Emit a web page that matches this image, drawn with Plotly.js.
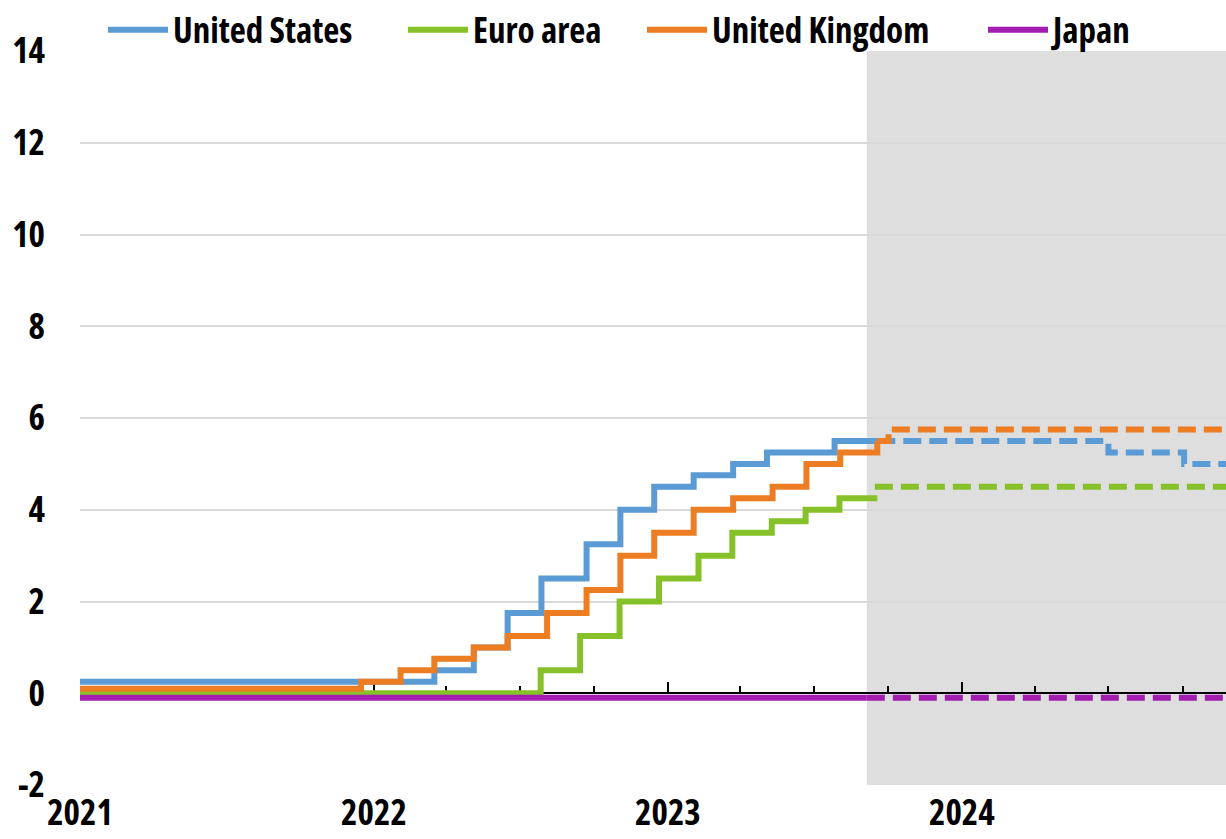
<!DOCTYPE html>
<html>
<head>
<meta charset="utf-8">
<script src="https://cdn.plot.ly/plotly-3.0.1.min.js"></script>
<style>html,body{margin:0;padding:0;background:#fff;}#chart{width:1226px;height:839px;}</style>
</head>
<body>
<div id="chart"></div>
<script>
// ---- data ----
const axisStart = '2021-01-01';
const axisEnd = '2024-11-24';
const projectionStart = '2023-09-05';

const usDates = ['2021-01-01','2022-03-17','2022-05-05','2022-06-16','2022-07-28','2022-09-22','2022-11-03','2022-12-15','2023-02-02','2023-03-23','2023-05-04','2023-07-27','2023-09-18'];
const usRates = [0.25,0.5,1.0,1.75,2.5,3.25,4.0,4.5,4.75,5.0,5.25,5.5,5.5];
const usProjDates = ['2023-09-18','2024-07-01','2024-10-03','2024-11-24'];
const usProjRates = [5.5,5.25,5.0,5.0];

const euDates = ['2021-01-01','2022-07-27','2022-09-14','2022-11-02','2022-12-21','2023-02-08','2023-03-22','2023-05-10','2023-06-21','2023-08-02','2023-09-18'];
const euRates = [0,0.5,1.25,2.0,2.5,3.0,3.5,3.75,4.0,4.25,4.25];
const euProjDates = ['2023-09-15','2024-11-24'];
const euProjRates = [4.5,4.5];

const ukDates = ['2021-01-01','2021-12-16','2022-02-03','2022-03-17','2022-05-05','2022-06-16','2022-08-04','2022-09-22','2022-11-03','2022-12-15','2023-02-02','2023-03-23','2023-05-11','2023-06-22','2023-08-03','2023-09-18'];
const ukRates = [0.1,0.25,0.5,0.75,1.0,1.25,1.75,2.25,3.0,3.5,4.0,4.25,4.5,5.0,5.25,5.5];
const ukProjDates = ['2023-09-18','2023-10-02','2024-11-24'];
const ukProjRates = [5.5,5.75,5.75];

const jpDates = ['2021-01-01','2023-09-05'];
const jpRates = [-0.1,-0.1];
const jpProjDates = ['2023-09-05','2024-11-24'];
const jpProjRates = [-0.1,-0.1];

const seriesNames = ['United States','Euro area','United Kingdom','Japan'];
const yTickVals = [-2,0,2,4,6,8,10,12,14];
const yTickText = ['-2','0','2','4','6','8','10','12','14'];

// ---- font selection (condensed face if available) ----
function textWidth(family, stretch, size, str) {
  const ns = 'http://www.w3.org/2000/svg';
  const svg = document.createElementNS(ns, 'svg');
  svg.setAttribute('width', '10'); svg.setAttribute('height', '10');
  svg.style.position = 'absolute'; svg.style.left = '-9999px';
  const t = document.createElementNS(ns, 'text');
  t.setAttribute('style', 'font-family:' + family + ';font-weight:bold;font-size:' + size + 'px;font-stretch:' + stretch);
  t.textContent = str;
  svg.appendChild(t); document.body.appendChild(svg);
  const w = t.getComputedTextLength();
  document.body.removeChild(svg);
  return w;
}
const SAMPLE = 'United Kingdom 2021';
const candidates = [
  {fam: '"Liberation Sans Narrow"', stretch: 'normal', needCond: false},
  {fam: '"Arial Narrow"', stretch: 'normal', needCond: false},
  {fam: '"Noto Sans"', stretch: 'condensed', needCond: true},
  {fam: '"Open Sans"', stretch: 'condensed', needCond: true},
  {fam: 'Roboto', stretch: 'condensed', needCond: true},
  {fam: '"DejaVu Sans Condensed"', stretch: 'normal', needCond: false},
  {fam: '"DejaVu Sans"', stretch: 'condensed', needCond: true}
];
let chosen = {fam: '"Liberation Sans", Arial', stretch: 'normal'};
for (const c of candidates) {
  const a = textWidth(c.fam + ', monospace', c.stretch, 100, SAMPLE);
  const b = textWidth(c.fam + ', serif', c.stretch, 100, SAMPLE);
  const m = textWidth('monospace', 'normal', 100, SAMPLE);
  const installed = Math.abs(a - b) < 1 && Math.abs(a - m) > 1;
  if (!installed) continue;
  if (c.needCond) {
    const n = textWidth(c.fam + ', monospace', 'normal', 100, SAMPLE);
    if (a > 0.95 * n) continue;
  }
  chosen = c; break;
}
const targetW = 0.82 * 100 * (0.722+0.611+0.278+0.333+0.556+0.611+0.278+0.722+0.278+0.611+0.611+0.611+0.611+0.889+0.278+4*0.556);
const measured = textWidth(chosen.fam, chosen.stretch, 100, SAMPLE);
const FS = Math.max(26, Math.min(35, 35 * targetW / measured));
const FONT = chosen.fam + ', "Liberation Sans", Arial, sans-serif';
const st = document.createElement('style');
st.textContent = 'svg text { font-stretch: ' + chosen.stretch + ' !important; }';
document.head.appendChild(st);

// ---- style ----
const colors = ['#5b9bd5','#86c12a','#ed7d22','#a31eb0'];
const LW = 6;
const legendNames = ['legend','legend2','legend3','legend4'];

function actual(x, y, i) {
  return {x: x, y: y, type: 'scatter', mode: 'lines', name: seriesNames[i], legend: legendNames[i],
    line: {color: colors[i], width: LW, shape: 'hv'}};
}
function proj(x, y, i) {
  return {x: x, y: y, type: 'scatter', mode: 'lines', name: seriesNames[i] + ' (projection)',
    showlegend: false, line: {color: colors[i], width: LW, shape: 'hv', dash: '18px,8px'}};
}

const traces = [
  actual(usDates, usRates, 0),
  actual(euDates, euRates, 1),
  actual(ukDates, ukRates, 2),
  actual(jpDates, jpRates, 3),
  proj(usProjDates, usProjRates, 0),
  proj(euProjDates, euProjRates, 1),
  proj(ukProjDates, ukProjRates, 2),
  proj(jpProjDates, jpProjRates, 3)
];
traces.push({x: [axisStart], y: [0], xaxis: 'x2', type: 'scatter', mode: 'markers',
  marker: {opacity: 0}, showlegend: false, hoverinfo: 'skip'});

const tfont = {family: FONT, size: FS, color: '#000000', weight: 'bold'};
const legendLineStarts = [113, 413, 652, 993];
function legendAt(px) {
  return {orientation: 'h', x: (px - 10 - 80) / 1146, xanchor: 'left', y: 1.0286, yanchor: 'middle',
    font: tfont, itemwidth: 60, bgcolor: 'rgba(0,0,0,0)', borderwidth: 0};
}

const layout = {
  width: 1226, height: 839,
  margin: {l: 80, r: 0, t: 51, b: 54, autoexpand: false},
  paper_bgcolor: '#ffffff', plot_bgcolor: '#ffffff',
  font: tfont,
  showlegend: true,
  legend: legendAt(legendLineStarts[0]),
  legend2: legendAt(legendLineStarts[1]),
  legend3: legendAt(legendLineStarts[2]),
  legend4: legendAt(legendLineStarts[3]),
  xaxis: {type: 'date', range: [axisStart, axisEnd], showgrid: false, zeroline: false,
    showline: false, ticks: '', tick0: '2021-01-01', dtick: 'M12', tickformat: '%Y',
    ticklabelstandoff: 4, tickfont: tfont},
  xaxis2: {type: 'date', overlaying: 'x', anchor: 'free', position: 0.125, side: 'bottom',
    range: [axisStart, axisEnd], showgrid: false, zeroline: false, showticklabels: false,
    showline: true, linecolor: '#000', linewidth: 2, layer: 'below traces',
    ticks: 'inside', ticklen: 10, tickwidth: 2, tickcolor: '#000',
    tick0: '2021-01-01', dtick: 'M12',
    minor: {ticks: 'inside', dtick: 'M3', tick0: '2021-01-01', ticklen: 6, tickwidth: 2, tickcolor: '#000'}},
  yaxis: {range: [-2, 14], tickvals: yTickVals, ticktext: yTickText, showgrid: true,
    gridcolor: '#d9d9d9', gridwidth: 2, zeroline: false, showline: false, ticks: '',
    ticklabelstandoff: 34, tickfont: tfont},
  shapes: [{type: 'rect', xref: 'x', yref: 'paper', x0: projectionStart, x1: axisEnd, y0: 0, y1: 1,
    fillcolor: '#dedede', line: {width: 0}, layer: 'below'}]
};

Plotly.newPlot('chart', traces, layout, {displayModeBar: false, staticPlot: true});
</script>
</body>
</html>
